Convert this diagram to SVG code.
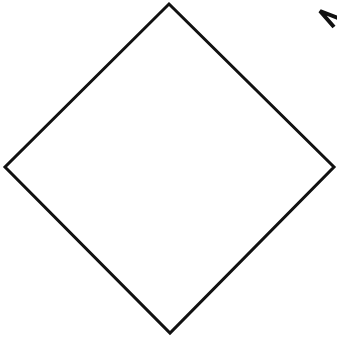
<svg xmlns="http://www.w3.org/2000/svg" width="337" height="337" viewBox="0 0 337 337">
<style>.s{fill:#fff;stroke:#111;stroke-width:3;stroke-linejoin:miter}.t{fill:none;stroke:#111;stroke-width:4;stroke-linejoin:miter}</style>
<rect width="337" height="337" fill="#fff"/>
<g id="diamond"><polygon class="s" points="169,4 334,167 170,333 5,167"/></g>
<g id="fragment"><path class="t" d="M338,18 L320,11 L334,27"/></g>
</svg>
